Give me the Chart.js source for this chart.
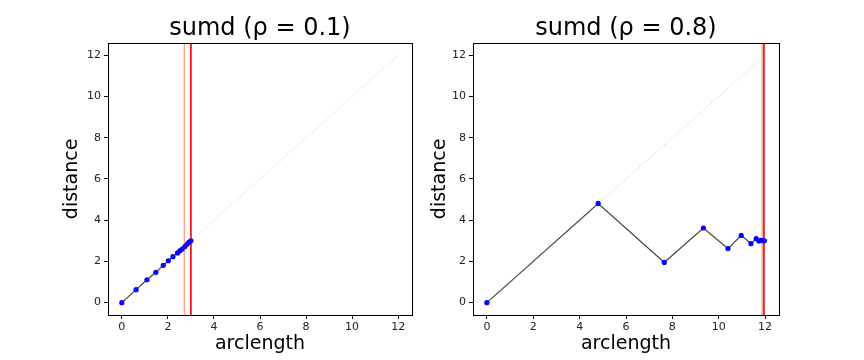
<!DOCTYPE html>
<html>
<head>
<meta charset="utf-8">
<script src="https://cdn.jsdelivr.net/npm/chart.js@4.4.0/dist/chart.umd.min.js"></script>
<style>
  body { margin: 0; background: #fff; }
  #wrap { position: relative; width: 864px; height: 360px; }
  .box { position: absolute; top: 0; height: 360px; }
</style>
</head>
<body>
<div id="wrap">
  <div class="box" style="left:0;width:432px"><canvas id="g1"></canvas></div>
  <div class="box" style="left:420px;width:444px"><canvas id="g2"></canvas></div>
</div>
<script>
// valeurs
const tickVals = [0, 2, 4, 6, 8, 10, 12];
const diagX = [0, 12];
const diagY = [0, 12];

// rho = 0.1
const arc1 = [0, 0.62, 1.09, 1.48, 1.80, 2.02, 2.22, 2.42, 2.52, 2.62, 2.74, 2.84, 2.92, 3.0];
const dist1 = [0, 0.63, 1.11, 1.47, 1.81, 2.03, 2.23, 2.41, 2.51, 2.60, 2.72, 2.84, 2.93, 3.0];
const vlines1 = [2.71, 3.0];

// rho = 0.8
const arc2 = [0, 4.80, 7.65, 9.34, 10.40, 10.97, 11.39, 11.62, 11.73, 11.83, 11.93, 11.97];
const dist2 = [0, 4.81, 1.95, 3.62, 2.62, 3.26, 2.86, 3.10, 2.99, 3.02, 3.00, 3.00];
const vlines2 = [11.87, 11.95];

const FONT = "'DejaVu Sans', sans-serif";

// cadre noir autour de la zone de tracé
const frame = {
    id: 'frame',
    afterDatasetsDraw(chart) {
        const a = chart.chartArea;
        const ctx = chart.ctx;
        ctx.save();
        ctx.strokeStyle = '#000';
        ctx.lineWidth = 1;
        ctx.strokeRect(Math.round(a.left) + 0.5, Math.round(a.top) + 0.5,
            Math.round(a.right - a.left), Math.round(a.bottom - a.top));
        ctx.restore();
    }
};

function makeChart(id, title, arc, dist, vlines, yWidth, yTitlePad, padRight) {
    const pts = arc.map((x, i) => ({ x: x, y: dist[i] }));
    const diag = diagX.map((x, i) => ({ x: x, y: diagY[i] }));
    const vColors = ['rgba(255, 110, 80, 0.9)', 'rgba(235, 0, 0, 1)'];
    const vWidths = [1, 1.6];
    const datasets = [{
        data: diag,
        showLine: true,
        borderColor: 'rgba(210, 90, 90, 0.45)',
        borderWidth: 1,
        borderDash: [1, 2],
        pointRadius: 0
    }, {
        data: pts,
        showLine: true,
        borderColor: 'rgba(30, 30, 30, 0.85)',
        borderWidth: 1.2,
        pointRadius: 2.6,
        pointBackgroundColor: '#0000ff',
        pointBorderColor: '#0000ff',
        pointBorderWidth: 0
    }];
    vlines.forEach((v, i) => {
        datasets.push({
            data: [{ x: v, y: -0.6 }, { x: v, y: 12.6 }],
            showLine: true,
            borderColor: vColors[i],
            borderWidth: vWidths[i],
            pointRadius: 0
        });
    });

    const setTicks = scale => { scale.ticks = tickVals.map(v => ({ value: v })); };

    return new Chart(document.getElementById(id), {
        type: 'scatter',
        data: { datasets: datasets },
        plugins: [frame],
        options: {
            responsive: true,
            maintainAspectRatio: false,
            animation: false,
            layout: { padding: { right: padRight, left: 0, top: 0, bottom: 0 } },
            plugins: {
                legend: { display: false },
                tooltip: { enabled: false },
                title: {
                    display: true,
                    text: title,
                    fullSize: false,
                    color: '#000',
                    font: { family: FONT, size: 24, weight: 'normal' },
                    padding: { top: 14, bottom: 0 }
                }
            },
            scales: {
                x: {
                    type: 'linear',
                    min: -0.6,
                    max: 12.6,
                    afterBuildTicks: setTicks,
                    afterFit: s => { s.height = 45; },
                    border: { display: false },
                    grid: { drawOnChartArea: false, tickLength: 4, color: '#000' },
                    ticks: { color: '#222', font: { family: FONT, size: 11 }, padding: 2, maxRotation: 0, autoSkip: false },
                    title: { display: true, text: 'arclength', color: '#000', font: { family: FONT, size: 19 }, padding: { bottom: 5, top: 0 } }
                },
                y: {
                    type: 'linear',
                    min: -0.6,
                    max: 12.6,
                    afterBuildTicks: setTicks,
                    afterFit: s => { s.width = yWidth; },
                    border: { display: false },
                    grid: { drawOnChartArea: false, tickLength: 4, color: '#000' },
                    ticks: { color: '#222', font: { family: FONT, size: 11 }, padding: 3, autoSkip: false },
                    title: { display: true, text: 'distance', color: '#000', font: { family: FONT, size: 19 }, padding: { top: yTitlePad, bottom: 0 } }
                }
            }
        }
    });
}

makeChart('g1', 'sumd (ρ = 0.1)', arc1, dist1, vlines1, 108, 61, 20);
makeChart('g2', 'sumd (ρ = 0.8)', arc2, dist2, vlines2, 53, 9, 85);
</script>
</body>
</html>
